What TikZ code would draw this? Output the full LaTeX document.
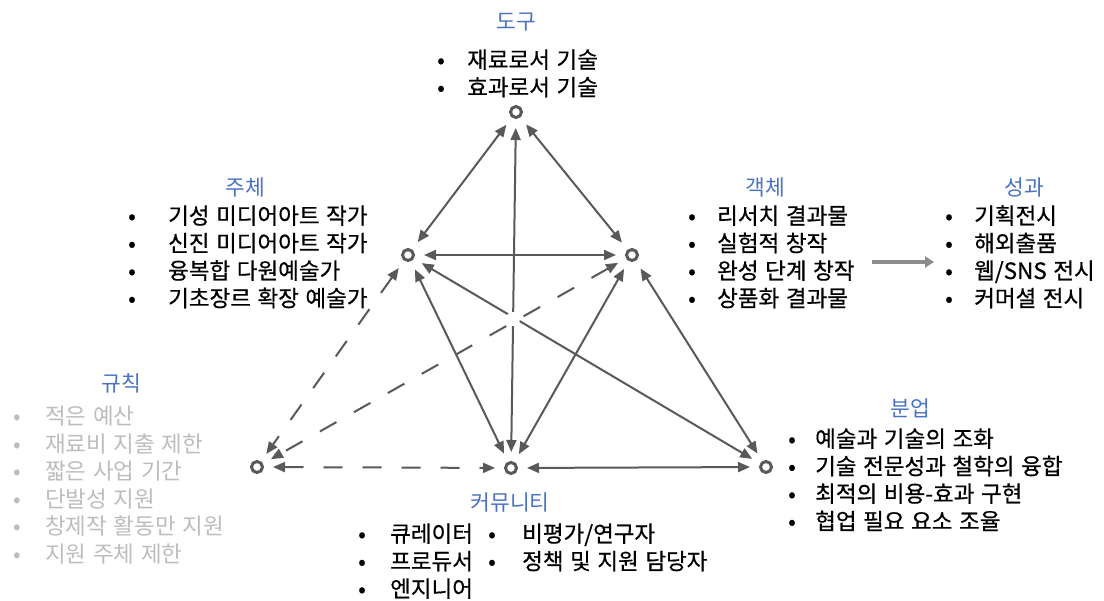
\documentclass[tikz,border=0pt]{standalone}
\usepackage{fontspec}
\setmainfont[WordSpace=1.3]{Noto Sans CJK KR}
\newfontfamily\bodyfont[WordSpace=1.3,FakeBold=0.6]{Noto Sans CJK KR}
\usetikzlibrary{arrows.meta}
\definecolor{ttl}{HTML}{4A72C4}
\definecolor{ln}{HTML}{595959}
\definecolor{rulegray}{HTML}{BDBDBD}
\definecolor{outarrow}{HTML}{8C8C8C}
\newcommand{\bitem}[2]{\makebox[#1][l]{•}#2}
\begin{document}
\begin{tikzpicture}[x=1pt,y=-1pt,
  ring/.style={circle,draw=ln,line width=3pt,minimum size=11pt,inner sep=0pt},
  ttlstyle/.style={text=ttl,font=\fontsize{21.5}{24}\selectfont,inner sep=0pt},
  lst/.style={anchor=base west,inner sep=0pt,font=\bodyfont\fontsize{22.5}{27.5}\selectfont},
  link/.style={draw=ln,line width=2pt,{Triangle[length=12pt,width=10pt]}-{Triangle[length=12pt,width=10pt]},shorten <=9pt,shorten >=9pt},
  dlink/.style={link,dash pattern=on 19pt off 20pt},
]
\fill[white] (0,0) rectangle (1104,601);
\path[use as bounding box] (0,0) rectangle (1104,601);

% nodes
\node[ring] (T) at (516,112) {};
\node[ring] (S) at (408,255) {};
\node[ring] (O) at (632,255) {};
\node[ring] (R) at (257,467) {};
\node[ring] (C) at (511,468) {};
\node[ring] (D) at (766,467) {};

% connectors
\draw[link] (T) -- (S);
\draw[link] (T) -- (O);
\draw[link] (S) -- (O);
\draw[link] (T) -- (C);
\draw[link] (S) -- (D);
\draw[link] (S) -- (C);
\draw[link] (O) -- (C);
\draw[link] (O) -- (D);
\draw[link] (C) -- (D);
\draw[dlink] (S) -- (R);
\draw[dlink] (O) -- (R);
\draw[dlink] (R) -- (C);
\coordinate (X) at (513,319);
\fill[white] (X) circle (7);

% output arrow
\coordinate (oa) at (872,262);
\coordinate (ob) at (934,262);
\draw[outarrow,line width=3.5pt,-{Triangle[length=9pt,width=11pt]}] (oa) -- (ob);

% titles
\node[ttlstyle] (tT) at (516,22) {도구};
\node[ttlstyle] (tS) at (245,187) {주체};
\node[ttlstyle] (tO) at (765,187) {객체};
\node[ttlstyle] (tP) at (1024,187) {성과};
\node[ttlstyle] (tR) at (121,383) {규칙};
\node[ttlstyle] (tD) at (910,408) {분업};
\node[ttlstyle] (tC) at (510,503) {커뮤니티};

% lists
\node[lst] (lT) at (437,68) {\begin{tabular}[t]{@{}l@{}}
\bitem{30pt}{재료로서 기술}\\
\bitem{30pt}{효과로서 기술}
\end{tabular}};
\node[lst] (lS) at (128,224) {\begin{tabular}[t]{@{}l@{}}
\bitem{40pt}{기성 미디어아트 작가}\\
\bitem{40pt}{신진 미디어아트 작가}\\
\bitem{40pt}{융복합 다원예술가}\\
\bitem{40pt}{기초장르 확장 예술가}
\end{tabular}};
\node[lst] (lO) at (688,224) {\begin{tabular}[t]{@{}l@{}}
\bitem{29pt}{리서치 결과물}\\
\bitem{29pt}{실험적 창작}\\
\bitem{29pt}{완성 단계 창작}\\
\bitem{29pt}{상품화 결과물}
\end{tabular}};
\node[lst] (lP) at (945,224) {\begin{tabular}[t]{@{}l@{}}
\bitem{29pt}{기획전시}\\
\bitem{29pt}{해외출품}\\
\bitem{29pt}{웹/SNS 전시}\\
\bitem{29pt}{커머셜 전시}
\end{tabular}};
\node[lst,text=rulegray,font=\fontsize{22.5}{27.5}\selectfont] (lR) at (13,425) {\begin{tabular}[t]{@{}l@{}}
\bitem{32pt}{적은 예산}\\
\bitem{32pt}{재료비 지출 제한}\\
\bitem{32pt}{짧은 사업 기간}\\
\bitem{32pt}{단발성 지원}\\
\bitem{32pt}{창제작 활동만 지원}\\
\bitem{32pt}{지원 주체 제한}
\end{tabular}};
\node[lst] (lD) at (788,447) {\begin{tabular}[t]{@{}l@{}}
\bitem{27pt}{예술과 기술의 조화}\\
\bitem{27pt}{기술 전문성과 철학의 융합}\\
\bitem{27pt}{최적의 비용-효과 구현}\\
\bitem{27pt}{협업 필요 요소 조율}
\end{tabular}};
\node[lst] (lC1) at (358,542) {\begin{tabular}[t]{@{}l@{}}
\bitem{32pt}{큐레이터}\\
\bitem{32pt}{프로듀서}\\
\bitem{32pt}{엔지니어}
\end{tabular}};
\node[lst] (lC2) at (488,542) {\begin{tabular}[t]{@{}l@{}}
\bitem{34pt}{비평가/연구자}\\
\bitem{34pt}{정책 및 지원 담당자}
\end{tabular}};
\end{tikzpicture}
\end{document}
